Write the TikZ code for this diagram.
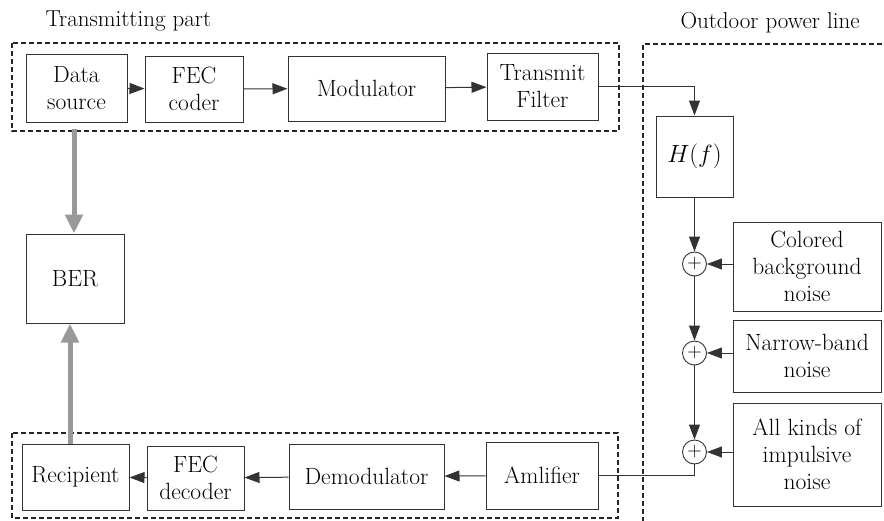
\documentclass[tikz,border=0pt]{standalone}
\usetikzlibrary{arrows.meta}
\begin{document}
\begin{tikzpicture}[x=1pt,y=1pt,yscale=-1,
    blk/.style={draw=black!80, line width=1pt, align=center, inner sep=2pt,
      font=\fontsize{23.5}{27}\selectfont},
    sumnode/.style={draw=black!80, line width=0.9pt, circle, inner sep=0pt, minimum size=24pt,
      font=\fontsize{20}{20}\selectfont},
    flow/.style={draw=black!80, line width=1pt, -{Triangle[length=15pt,width=11pt]}},
    berflow/.style={draw=black!40, line width=5pt, -{Triangle[length=19pt,width=17pt]}},
    grp/.style={draw=black!85, line width=1.1pt, dash pattern={on 5pt off 3pt}},
    title/.style={anchor=base west, font=\fontsize{23}{25}\selectfont}]
        \useasboundingbox (0,0) rectangle (884,520);
        % groups
        \draw [grp] (12,43) rectangle (619,131);
        \draw [grp] (12,433) rectangle (618,518);
        \draw [grp] (643,522) -- (643,44) -- (886,44);
        \node [title] (ttx) at (42,26) {Transmitting part};
        \node [title] (tpl) at (677,28) {Outdoor power line};
        % transmitting part
        \node [blk, minimum width=101, minimum height=68] (src) at (76.5,88) {Data\\source};
        \node [blk, minimum width=98, minimum height=66] (fec) at (194,89) {FEC\\coder};
        \node [blk, minimum width=157, minimum height=65] (mod) at (366.5,88.5) {Modulator};
        \node [blk, minimum width=111, minimum height=67] (tx) at (542.5,86.5) {Transmit\\Filter};
        % power line
        \node [blk, minimum width=77, minimum height=81] (hf) at (694.5,156.5) {$H(f)$};
        \node [sumnode] (s1) at (694.5,264) {+};
        \node [sumnode] (s2) at (694.5,353) {+};
        \node [sumnode] (s3) at (694.5,452) {+};
        \node [blk, minimum width=148, minimum height=89] (cbn) at (807,266.5) {Colored\\background\\noise};
        \node [blk, minimum width=148, minimum height=72] (nbn) at (807,356) {Narrow-band\\noise};
        \node [blk, minimum width=148, minimum height=103] (akn) at (807,454.5) {All kinds of\\impulsive\\noise};
        % receiving part
        \node [blk, minimum width=112, minimum height=67] (amp) at (542,475.5) {Amlifier};
        \node [blk, minimum width=155, minimum height=65] (dem) at (366.5,476.5) {Demodulator};
        \node [blk, minimum width=97, minimum height=64] (fecd) at (195.5,478) {FEC\\decoder};
        \node [blk, minimum width=107, minimum height=66] (rec) at (75.5,477) {Recipient};
        \node [blk, minimum width=98, minimum height=89] (ber) at (75,278.5) {BER};
        % connectors
        \draw [flow] (src) -- (fec);
        \draw [flow] (fec) -- (mod);
        \draw [flow] (mod) -- (tx);
        \draw [flow] (tx.east) -| (hf.north);
        \draw [flow] (hf) -- (s1);
        \draw [flow] (s1) -- (s2);
        \draw [flow] (s2) -- (s3);
        \draw [flow] (cbn.west |- s1) -- (s1);
        \draw [flow] (nbn.west |- s2) -- (s2);
        \draw [flow] (akn.west |- s3) -- (s3);
        \draw [draw=black!80, line width=1pt] (s3.south) |- (amp.east);
        \draw [flow] (amp) -- (dem);
        \draw [flow] (dem) -- (fecd);
        \draw [flow] (fecd) -- (rec);
        \coordinate (bertop) at ([xshift=-1pt]ber.north);
        \coordinate (berbot) at ([xshift=-5pt]ber.south);
        \draw [berflow] (bertop |- {(0,129)}) -- (bertop);
        \draw [berflow] (berbot |- rec.north) -- (berbot);
\end{tikzpicture}
\end{document}
